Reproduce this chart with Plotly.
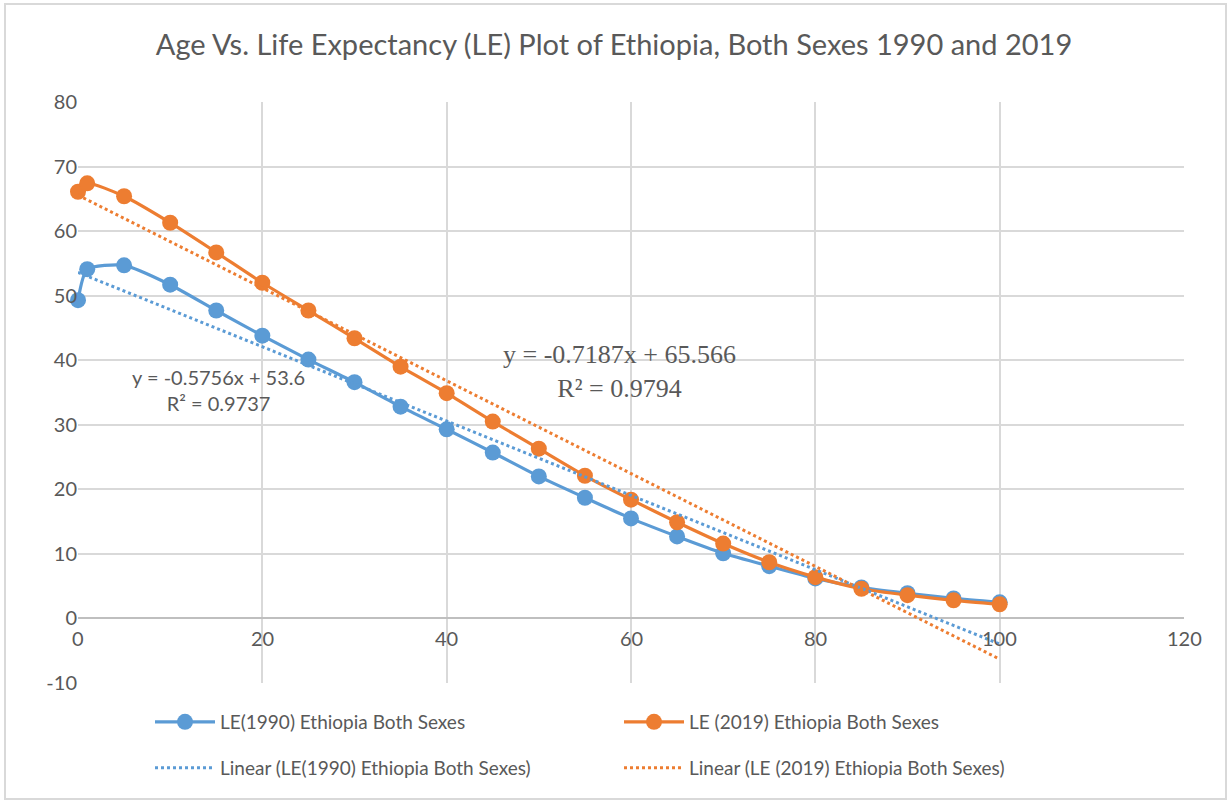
import plotly.graph_objects as go

# ---- data ----
ages = [0, 1, 5, 10, 15, 20, 25, 30, 35, 40, 45, 50, 55, 60, 65, 70, 75, 80, 85, 90, 95, 100]
le_1990 = [49.3, 54.1, 54.7, 51.7, 47.7, 43.8, 40.1, 36.6, 32.8, 29.3, 25.7, 22.0, 18.7, 15.5, 12.7, 10.1, 8.1, 6.2, 4.8, 3.9, 3.1, 2.5]
le_2019 = [66.1, 67.4, 65.4, 61.3, 56.7, 52.0, 47.7, 43.4, 39.0, 34.9, 30.5, 26.3, 22.1, 18.4, 14.9, 11.6, 8.7, 6.4, 4.6, 3.6, 2.8, 2.2]
trend_slope = [-0.5756, -0.7187]
trend_intercept = [53.6, 65.566]
trend_r2 = [0.9737, 0.9794]
x_ticks = [0, 20, 40, 60, 80, 100, 120]
y_ticks = [-10, 0, 10, 20, 30, 40, 50, 60, 70, 80]
y_tick_labels = ["-10", "0", "10", "20", "30", "40", "50", "60", "70", "80"]
names = ["LE(1990) Ethiopia Both Sexes", "LE (2019) Ethiopia Both Sexes"]

BLUE = "#5B9BD5"
ORANGE = "#ED7D31"
TXT = "#595959"
GRID = "#D9D9D9"
FONT = "Lato"

W, H = 1228, 800
L, R, T, B = 78, 44, 102, 117
PW, PH = W - L - R, H - T - B


def px(xp):
    return (xp - L) / PW


def py(yp):
    return (H - B - yp) / PH


fig = go.Figure()
colors = [BLUE, ORANGE]
series = [le_1990, le_2019]
for i in range(2):
    fig.add_trace(go.Scatter(
        x=ages, y=series[i], mode="lines+markers", name=names[i],
        line=dict(color=colors[i], width=3.2, shape="spline", smoothing=0.6),
        marker=dict(color=colors[i], size=16),
        cliponaxis=False,
        legend="legend",
    ))
for i in range(2):
    xs = [ages[0], ages[-1]]
    ys = [trend_intercept[i] + trend_slope[i] * v for v in xs]
    fig.add_trace(go.Scatter(
        x=xs, y=ys, mode="lines", name="Linear (" + names[i] + ")",
        line=dict(color=colors[i], width=3, dash="dot"),
        cliponaxis=False,
        legend="legend2",
    ))

# x tick labels placed just below y = 0 (axis crosses at zero)
for xv in x_ticks:
    fig.add_annotation(x=xv, y=0, xref="x", yref="y", text=str(xv), showarrow=False,
                       xanchor="center", yanchor="top", yshift=-6,
                       font=dict(family=FONT, size=20, color=TXT))

# trendline equations
fig.add_annotation(x=px(218), y=py(390), xref="paper", yref="paper", showarrow=False,
                   xanchor="center", yanchor="middle",
                   text=f"y = {trend_slope[0]}x + {trend_intercept[0]}<br>R² = {trend_r2[0]}",
                   font=dict(family=FONT, size=20, color=TXT), align="center")
fig.add_annotation(x=px(619), y=py(371), xref="paper", yref="paper", showarrow=False,
                   xanchor="center", yanchor="middle",
                   text=f"y = {trend_slope[1]}x + {trend_intercept[1]}<br>R² = {trend_r2[1]}",
                   font=dict(family="Liberation Serif", size=26, color=TXT), align="center")

# chart border
fig.add_shape(type="rect", xref="paper", yref="paper",
              x0=px(5), x1=px(1226), y0=py(799), y1=py(4),
              line=dict(color=GRID, width=2), layer="below")

leg_common = dict(orientation="h", xref="container", yref="container", xanchor="left",
                  yanchor="middle", entrywidth=394, entrywidthmode="pixels", itemwidth=60,
                  font=dict(family=FONT, size=19, color=TXT), bgcolor="rgba(0,0,0,0)")

fig.update_layout(
    width=W, height=H,
    margin=dict(l=L, r=R, t=T, b=B, autoexpand=False),
    paper_bgcolor="white", plot_bgcolor="white",
    title=dict(text="Age Vs. Life Expectancy (LE) Plot of Ethiopia, Both Sexes 1990 and 2019",
               x=0.5, xanchor="center", y=1 - 45 / H, yanchor="middle",
               font=dict(family=FONT, size=29, color=TXT)),
    font=dict(family=FONT, size=19, color=TXT),
    xaxis=dict(range=[0, 120], tickvals=x_ticks, showticklabels=False, showgrid=True,
               gridcolor=GRID, gridwidth=1.5, zeroline=False, showline=False, ticks=""),
    yaxis=dict(range=[-10, 80], tickvals=y_ticks, ticktext=y_tick_labels, showgrid=True,
               gridcolor=GRID, gridwidth=1.5,
               zeroline=True, zerolinecolor="#BFBFBF", zerolinewidth=1.5, showline=False,
               ticks="", tickfont=dict(family=FONT, size=20, color=TXT)),
    legend=dict(x=150 / W, y=1 - 722 / H, **leg_common),
    legend2=dict(x=150 / W, y=1 - 768 / H, **leg_common),
    showlegend=True,
)

fig.write_html("out.html", config={"displayModeBar": False},
               post_script="document.body.style.margin='0';")
